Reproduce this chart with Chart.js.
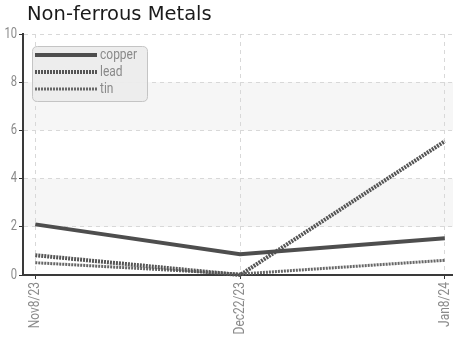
<!DOCTYPE html>
<html>
<head>
<meta charset="utf-8">
<script src="https://cdn.jsdelivr.net/npm/chart.js@4"></script>
<style>
  html, body { margin: 0; padding: 0; background: #fff; }
  #wrap { width: 453px; height: 338px; position: relative; }
</style>
</head>
<body>
<div id="wrap"><canvas id="c"></canvas></div>
<script>
// Prices of non-ferrous metals on three dates
const chartTitle = 'Non-ferrous Metals';
const categories = ['Nov8/23', 'Dec22/23', 'Jan8/24'];
const copper = [2.1, 0.86, 1.52];
const lead = [0.82, 0.0, 5.55];
const tin = [0.51, 0.04, 0.61];
const yTicks = [0, 2, 4, 6, 8, 10];

const labelFont = 'Roboto, "Liberation Sans", sans-serif';
const labelColor = '#8a8a8a';
const squeeze = 0.8; // horizontal compression for a condensed look

const toPoints = arr => arr.map((v, i) => ({ x: i, y: v }));

// draws a condensed text run at (x, y) in the current frame
function narrowText(ctx, text, x, y, align) {
  ctx.save();
  ctx.translate(x, y);
  ctx.scale(squeeze, 1);
  ctx.textAlign = align;
  ctx.fillText(text, 0, 0);
  ctx.restore();
}

// alternating light bands behind the grid
const bandPlugin = {
  id: 'bands',
  beforeDraw(chart) {
    const { ctx, chartArea, scales } = chart;
    const y = scales.y;
    ctx.save();
    ctx.fillStyle = '#f6f6f6';
    [[2, 4], [6, 8]].forEach(([a, b]) => {
      const top = y.getPixelForValue(b);
      const bot = y.getPixelForValue(a);
      ctx.fillRect(chartArea.left, top, chartArea.right - chartArea.left, bot - top);
    });
    ctx.restore();
  }
};

// condensed axis labels
const axisLabelPlugin = {
  id: 'axisLabels',
  afterDraw(chart) {
    const { ctx, scales } = chart;
    ctx.save();
    ctx.fillStyle = labelColor;
    ctx.textBaseline = 'middle';
    ctx.font = '14px ' + labelFont;
    scales.y.ticks.forEach(t => {
      narrowText(ctx, String(t.value), scales.y.right - 6, scales.y.getPixelForValue(t.value), 'right');
    });
    ctx.font = '15px ' + labelFont;
    scales.x.ticks.forEach(t => {
      ctx.save();
      ctx.translate(scales.x.getPixelForValue(t.value), scales.x.top + 7);
      ctx.rotate(-Math.PI / 2);
      narrowText(ctx, categories[t.value], 0, 0, 'right');
      ctx.restore();
    });
    ctx.restore();
  }
};

// title and boxed legend drawn at the top left
const decorPlugin = {
  id: 'decor',
  afterDraw(chart) {
    const ctx = chart.ctx;
    ctx.save();
    ctx.fillStyle = '#1a1a1a';
    ctx.font = '19.5px "DejaVu Sans", sans-serif';
    ctx.textBaseline = 'alphabetic';
    ctx.textAlign = 'left';
    ctx.fillText(chartTitle, 27, 20);

    // legend box
    const bx = 32.5, by = 46.5, bw = 115, bh = 55, r = 5;
    ctx.beginPath();
    ctx.moveTo(bx + r, by);
    ctx.lineTo(bx + bw - r, by);
    ctx.quadraticCurveTo(bx + bw, by, bx + bw, by + r);
    ctx.lineTo(bx + bw, by + bh - r);
    ctx.quadraticCurveTo(bx + bw, by + bh, bx + bw - r, by + bh);
    ctx.lineTo(bx + r, by + bh);
    ctx.quadraticCurveTo(bx, by + bh, bx, by + bh - r);
    ctx.lineTo(bx, by + r);
    ctx.quadraticCurveTo(bx, by, bx + r, by);
    ctx.closePath();
    ctx.fillStyle = 'rgba(236,236,236,0.95)';
    ctx.fill();
    ctx.strokeStyle = '#c4c4c4';
    ctx.lineWidth = 1;
    ctx.stroke();

    chart.data.datasets.forEach((ds, i) => {
      const yy = 55 + i * 17;
      ctx.beginPath();
      ctx.setLineDash(ds.borderDash || []);
      ctx.lineWidth = ds.borderWidth;
      ctx.strokeStyle = ds.borderColor;
      ctx.moveTo(35, yy);
      ctx.lineTo(97, yy);
      ctx.stroke();
      ctx.setLineDash([]);
      ctx.fillStyle = labelColor;
      ctx.font = '15px ' + labelFont;
      ctx.textBaseline = 'middle';
      narrowText(ctx, ds.label, 100, yy, 'left');
    });
    ctx.restore();
  }
};

new Chart(document.getElementById('c'), {
  type: 'line',
  data: {
    datasets: [
      { label: 'copper', data: toPoints(copper), borderColor: '#4e4e4e', borderWidth: 4, borderDash: [] },
      { label: 'lead', data: toPoints(lead), borderColor: '#555555', borderWidth: 4, borderDash: [2, 1] },
      { label: 'tin', data: toPoints(tin), borderColor: '#666666', borderWidth: 3, borderDash: [2, 1] }
    ]
  },
  options: {
    responsive: true,
    maintainAspectRatio: false,
    animation: false,
    layout: { padding: { top: 34, left: 0, right: 0, bottom: 0 } },
    elements: { point: { radius: 0 }, line: { tension: 0, borderCapStyle: 'butt' } },
    datasets: { line: { clip: false } },
    plugins: { legend: { display: false }, title: { display: false }, tooltip: { enabled: false } },
    scales: {
      x: {
        type: 'linear',
        min: -0.06,
        max: 2.04,
        afterBuildTicks(scale) { scale.ticks = categories.map((_, i) => ({ value: i })); },
        afterFit(scale) { scale.height = 63; scale.paddingLeft = 0; scale.paddingRight = 0; },
        ticks: { display: false },
        grid: { color: '#d8d8d8', tickColor: '#333', tickLength: 4, lineWidth: 1 },
        border: { display: true, color: '#3a3a3a', width: 2, dash: [4, 4] }
      },
      y: {
        min: 0,
        max: 10,
        afterBuildTicks(scale) { scale.ticks = yTicks.map(v => ({ value: v })); },
        afterFit(scale) { scale.width = 23; scale.paddingTop = 0; scale.paddingBottom = 0; },
        ticks: { display: false },
        grid: { color: '#d8d8d8', tickColor: '#333', tickLength: 4, lineWidth: 1 },
        border: { display: true, color: '#3a3a3a', width: 2, dash: [4, 4] }
      }
    }
  },
  plugins: [bandPlugin, axisLabelPlugin, decorPlugin]
});
</script>
</body>
</html>
